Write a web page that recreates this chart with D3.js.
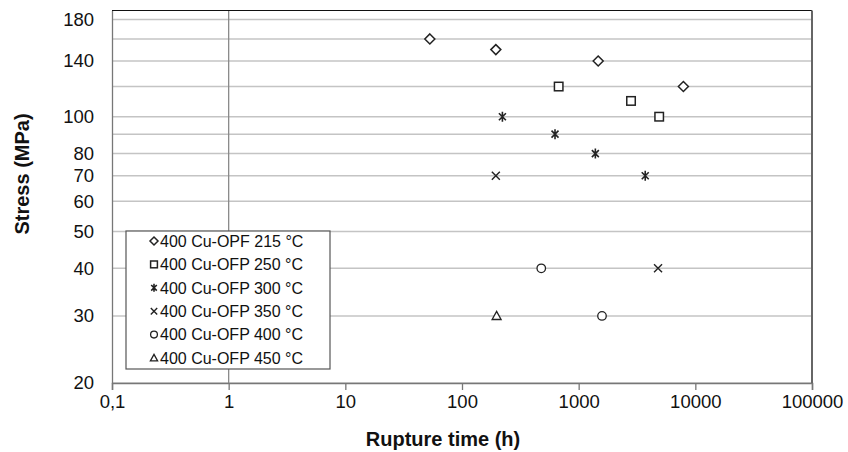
<!DOCTYPE html>
<html>
<head>
<meta charset="utf-8">
<script src="https://cdn.jsdelivr.net/npm/d3@7"></script>
<style>
  html, body { margin: 0; padding: 0; background: #fff; }
  svg { display: block; font-family: "Liberation Sans", Arial, sans-serif; }
</style>
</head>
<body>
<svg id="chart" width="848" height="452"></svg>
<script>
// Creep rupture data: rupture time (h) and stress (MPa) per test temperature
const seriesNames = [
  "400 Cu-OPF 215 °C",
  "400 Cu-OFP 250 °C",
  "400 Cu-OFP 300 °C",
  "400 Cu-OFP 350 °C",
  "400 Cu-OFP 400 °C",
  "400 Cu-OFP 450 °C"
];
const seriesSymbols = ["diamond", "square", "asterisk", "cross", "circle", "triangle"];

const time215 = [53, 195, 1470, 7900];
const stress215 = [160, 150, 140, 120];
const time250 = [674, 2810, 4900];
const stress250 = [120, 110, 100];
const time300 = [222, 627, 1390, 3720];
const stress300 = [100, 90, 80, 70];
const time350 = [195, 4790];
const stress350 = [70, 40];
const time400 = [478, 1585];
const stress400 = [40, 30];
const time450 = [198];
const stress450 = [30];

const seriesTimes = [time215, time250, time300, time350, time400, time450];
const seriesStress = [stress215, stress250, stress300, stress350, stress400, stress450];

const xTicks = [0.1, 1, 10, 100, 1000, 10000, 100000];
const xTickLabels = ["0,1", "1", "10", "100", "1000", "10000", "100000"];
const yGrid = [20, 30, 40, 50, 60, 70, 80, 90, 100, 120, 140, 160, 180];
const yTickLabels = [20, 30, 40, 50, 60, 70, 80, 100, 140, 180];

const svg = d3.select("#chart");
const plotL = 112, plotR = 812, plotT = 10.5, plotB = 383;

const x = d3.scaleLog().domain([0.1, 100000]).range([plotL, plotR]);
const y = d3.scaleLog().domain([20, 190]).range([plotB, plotT]);

// horizontal gridlines
svg.append("g").selectAll("line").data(yGrid).join("line")
  .attr("x1", plotL).attr("x2", plotR)
  .attr("y1", d => y(d)).attr("y2", d => y(d))
  .attr("stroke", "#c4c4c4").attr("stroke-width", 1.5);

// vertical reference line at 1 h
svg.append("line")
  .attr("x1", x(1)).attr("x2", x(1)).attr("y1", plotT).attr("y2", plotB)
  .attr("stroke", "#8a8a8a").attr("stroke-width", 1.3);

// x axis
const xAxis = d3.axisBottom(x).tickValues(xTicks)
  .tickFormat((d, i) => xTickLabels[i]).tickSize(7).tickPadding(5);
const gx = svg.append("g").attr("transform", `translate(0,${plotB})`).call(xAxis);
gx.select(".domain").attr("stroke", "#777").attr("stroke-width", 1.5);
gx.selectAll(".tick line").attr("stroke", "#777").attr("stroke-width", 1.3);
gx.selectAll(".tick text").attr("font-size", 18.5).attr("fill", "#111")
  .attr("font-family", "Liberation Sans, Arial, sans-serif");

// y axis
const yAxis = d3.axisLeft(y).tickValues(yTickLabels).tickFormat(d3.format("d"))
  .tickSize(0).tickPadding(18);
const gy = svg.append("g").attr("transform", `translate(${plotL},0)`).call(yAxis);
gy.select(".domain").attr("stroke", "#777").attr("stroke-width", 1.3);
gy.selectAll(".tick text").attr("font-size", 18.5).attr("fill", "#111")
  .attr("font-family", "Liberation Sans, Arial, sans-serif");

// plot frame: top and right edges
svg.append("line").attr("x1", plotL).attr("x2", plotR).attr("y1", plotT).attr("y2", plotT)
  .attr("stroke", "#111").attr("stroke-width", 1.2);
svg.append("line").attr("x1", plotR).attr("x2", plotR).attr("y1", plotT).attr("y2", plotB)
  .attr("stroke", "#666").attr("stroke-width", 2);

// marker drawing
function drawMarker(g, type, cx, cy, s) {
  const st = { stroke: "#222", sw: 1.5 };
  const h = s / 2;
  if (type === "diamond") {
    g.append("path").attr("d", `M${cx},${cy - h}L${cx + h},${cy}L${cx},${cy + h}L${cx - h},${cy}Z`)
      .attr("fill", "#fff").attr("stroke", st.stroke).attr("stroke-width", st.sw);
  } else if (type === "square") {
    const a = h * 0.85;
    g.append("rect").attr("x", cx - a).attr("y", cy - a).attr("width", 2 * a).attr("height", 2 * a)
      .attr("fill", "#fff").attr("stroke", st.stroke).attr("stroke-width", st.sw);
  } else if (type === "circle") {
    g.append("circle").attr("cx", cx).attr("cy", cy).attr("r", h * 0.85)
      .attr("fill", "#fff").attr("stroke", st.stroke).attr("stroke-width", 1.3);
  } else if (type === "triangle") {
    const a = h * 0.9;
    g.append("path").attr("d", `M${cx},${cy - a}L${cx + a},${cy + a * 0.8}L${cx - a},${cy + a * 0.8}Z`)
      .attr("fill", "#fff").attr("stroke", st.stroke).attr("stroke-width", 1.3);
  } else if (type === "cross") {
    const a = h * 0.8;
    g.append("path").attr("d", `M${cx - a},${cy - a}L${cx + a},${cy + a}M${cx - a},${cy + a}L${cx + a},${cy - a}`)
      .attr("fill", "none").attr("stroke", st.stroke).attr("stroke-width", 1.4);
  } else if (type === "asterisk") {
    const a = h * 0.7;
    g.append("path").attr("d", `M${cx - a},${cy - a}L${cx + a},${cy + a}M${cx - a},${cy + a}L${cx + a},${cy - a}M${cx},${cy - h}L${cx},${cy + h}`)
      .attr("fill", "none").attr("stroke", st.stroke).attr("stroke-width", 1.6);
  }
}

// data points
const pts = svg.append("g");
seriesTimes.forEach((times, i) => {
  times.forEach((t, j) => {
    drawMarker(pts, seriesSymbols[i], x(t), y(seriesStress[i][j]), 10);
  });
});

// legend
const lg = svg.append("g");
lg.append("rect").attr("x", 126).attr("y", 231).attr("width", 204).attr("height", 138)
  .attr("fill", "#fff").attr("stroke", "#555").attr("stroke-width", 1.2);
seriesNames.forEach((name, i) => {
  const cy = 241 + i * 23.4;
  drawMarker(lg, seriesSymbols[i], 154, cy, 8);
  lg.append("text").attr("x", 160).attr("y", cy + 5.8)
    .attr("font-size", 16).attr("fill", "#111").text(name);
});

// axis titles
svg.append("text").attr("x", 443).attr("y", 446).attr("text-anchor", "middle")
  .attr("font-size", 20).attr("font-weight", "bold").attr("fill", "#111")
  .text("Rupture time (h)");
svg.append("text").attr("transform", "translate(29,174) rotate(-90)").attr("text-anchor", "middle")
  .attr("font-size", 20).attr("font-weight", "bold").attr("fill", "#111")
  .text("Stress (MPa)");
</script>
</body>
</html>
